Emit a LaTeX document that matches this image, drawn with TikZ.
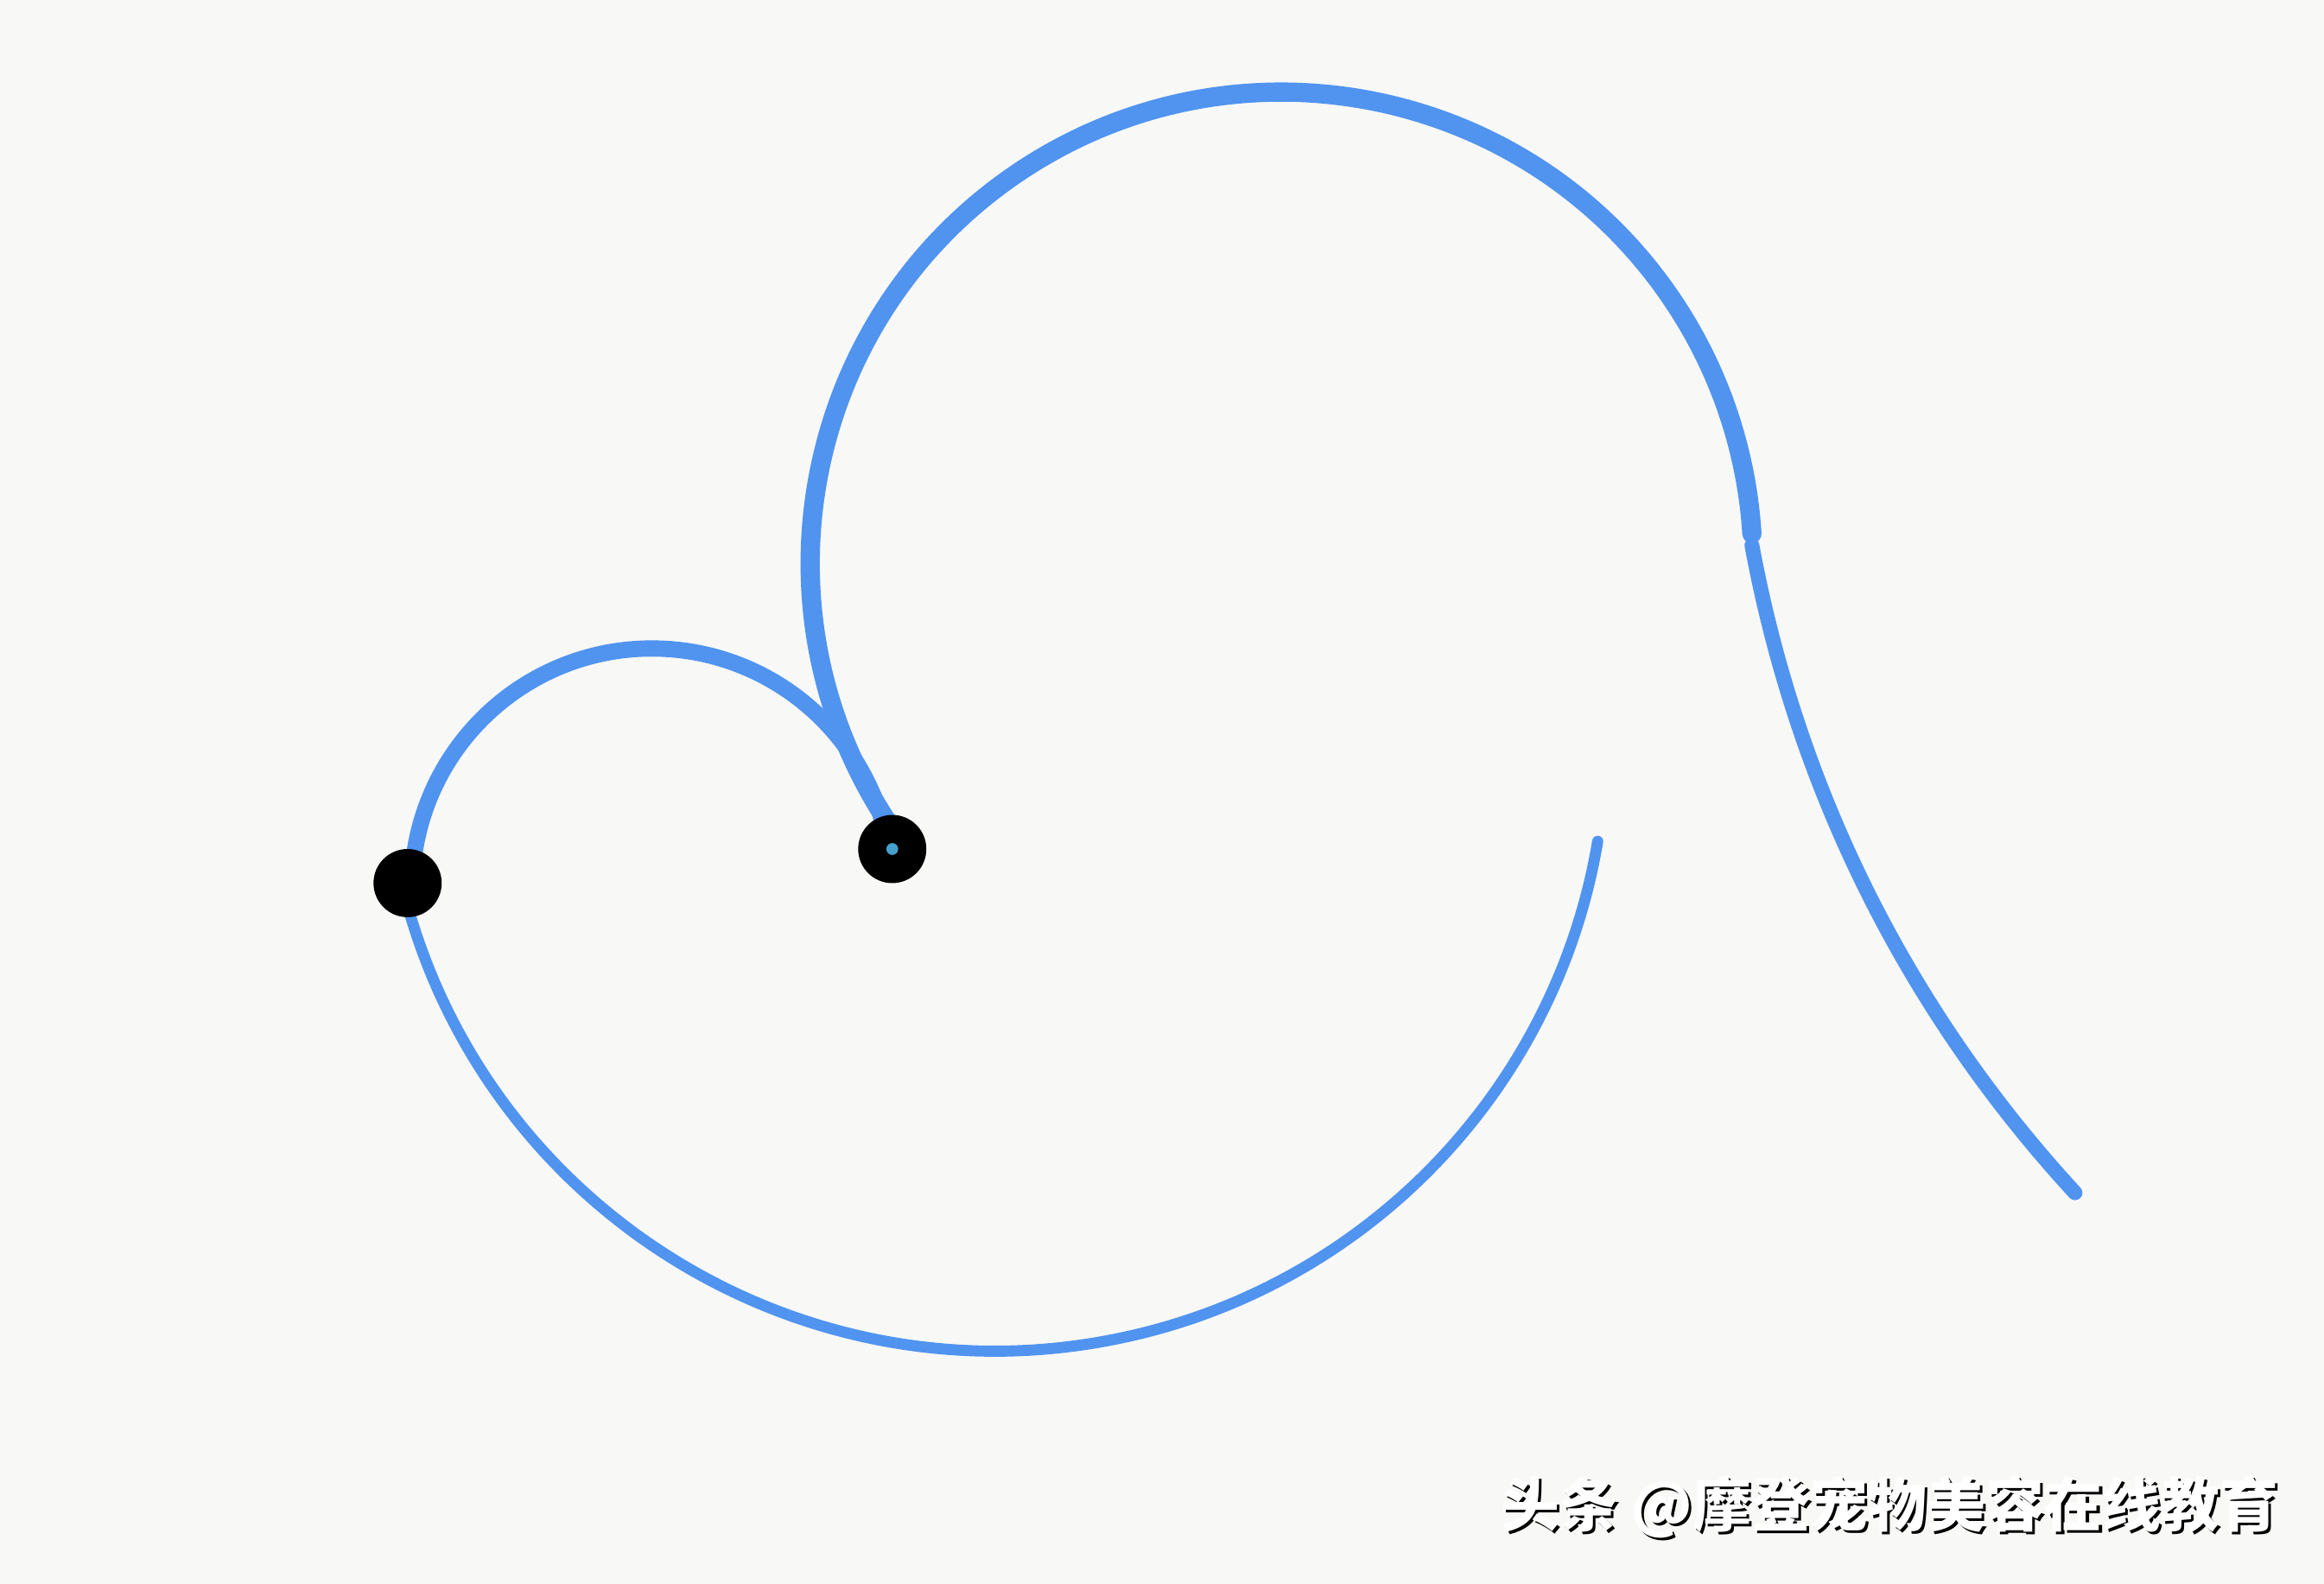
\documentclass[tikz,border=0pt]{standalone}
\usepackage{fontspec}
\newfontfamily\cjkfont{Noto Sans CJK SC}
\usetikzlibrary{positioning}
\definecolor{curveblue}{RGB}{80,148,240}
\definecolor{paper}{RGB}{248,248,246}
\definecolor{eyeblue}{RGB}{70,160,205}
\newcommand{\wmtext}{头条 @摩登宠物美容在线教育}

\begin{document}
\begin{tikzpicture}[x=1pt,y=1pt,
	curve/.style={draw=curveblue,line cap=round},
	dot/.style={circle,fill=black,minimum size=46pt,inner sep=0pt},
	eye/.style={circle,fill=eyeblue,minimum size=8pt,inner sep=0pt}]
\fill[paper] (0,0) rectangle (1568,1069);
\useasboundingbox (0,0) rectangle (1568,1069);

\coordinate (ls) at (271,473);   % left point
\coordinate (rs) at (601,511);   % right point, start of big arc
\coordinate (sm) at (278,475);   % start of small arc
\coordinate (kink) at (1182,701);
\coordinate (tail) at (1400,264);

% lower arc
\draw[curve,line width=7.5pt] (ls) arc[start angle=193.5,end angle=350.5,radius=412];
% small arc
\draw[curve,line width=11pt] (sm) arc[start angle=178,end angle=12,radius=162];
% big arc and tail
\draw[curve,line width=13pt] (rs) arc[start angle=214,end angle=3.6,radius=318];
\draw[curve,line width=10pt] (kink) .. controls (1212,539) and (1285,389) .. (tail);

\node[dot] (l) at (275,473) {};
\node[dot] (r) at (602,496) {};
\node[eye] (re) at (r) {};

\node (wm) at (1275,51) {\cjkfont\bfseries\fontsize{39.5}{39.5}\selectfont
	\rlap{\raisebox{-1.8pt}{\hspace{1.8pt}\textcolor{black}{\wmtext}}}\textcolor{white}{\wmtext}};
\end{tikzpicture}
\end{document}
